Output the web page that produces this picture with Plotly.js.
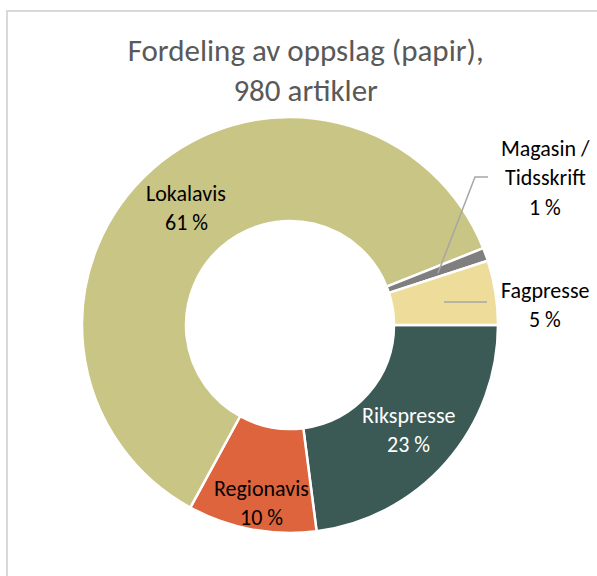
<!DOCTYPE html>
<html>
<head>
<meta charset="utf-8">
<script src="https://cdn.plot.ly/plotly-3.0.1.min.js"></script>
<style>
  html, body { margin: 0; padding: 0; background: #fff; overflow: hidden; }
  #frame { position: absolute; left: 6px; top: 10px; width: 620px; height: 600px; border: 2px solid #d9d9d9; box-sizing: border-box; }
  #chart { position: absolute; left: 0; top: 0; width: 597px; height: 576px; }
</style>
</head>
<body>
<div id="frame"></div>
<div id="chart"></div>
<script>
// Data
const categories = ["Rikspresse", "Regionavis", "Lokalavis", "Magasin / Tidsskrift", "Fagpresse"];
const labelLines = [["Rikspresse"], ["Regionavis"], ["Lokalavis"], ["Magasin /", "Tidsskrift"], ["Fagpresse"]];
const articleCounts = [225, 98, 598, 10, 49];
const percentLabels = ["23 %", "10 %", "61 %", "1 %", "5 %"];
const colors = ["#3B5A56", "#DD643C", "#C9C584", "#7F7F7F", "#EEDD9A"];
const labelFontColors = ["#ffffff", "#000000", "#000000", "#000000", "#000000"];
const chartTitle = "Fordeling av oppslag (papir),<br>980 artikler";

const W = 597, H = 576;
const px = x => x / W;
const py = y => 1 - y / H;
const FONT = "Carlito, Lato, 'Open Sans', sans-serif";

// label anchor positions (pixel centre of first line) and line spacing
const labelPos = [[408, 415], [261, 488], [186, 193], [545, 148], [545, 290]];
const lineGap = 29.5;

const annotations = [];
categories.forEach((c, i) => {
  const lines = labelLines[i].concat([percentLabels[i]]);
  lines.forEach((t, k) => {
    annotations.push({
      text: t, xref: "paper", yref: "paper",
      x: px(labelPos[i][0]), y: py(labelPos[i][1] + k * lineGap),
      xanchor: "center", yanchor: "middle", showarrow: false,
      font: {family: FONT, size: 22, color: labelFontColors[i]}
    });
  });
});

const leader = {color: "#A6A6A6", width: 1.5};
const shapes = [
  {type: "path", xref: "paper", yref: "paper",
   path: `M ${px(438)} ${py(273)} L ${px(475)} ${py(177)} L ${px(488)} ${py(177)}`, line: leader},
  {type: "line", xref: "paper", yref: "paper",
   x0: px(444), y0: py(302), x1: px(487), y1: py(302), line: leader}
];

const trace = {
  type: "pie",
  labels: categories,
  values: articleCounts,
  hole: 0.5,
  sort: false,
  direction: "clockwise",
  rotation: 90,
  textinfo: "none",
  hoverinfo: "label+percent",
  marker: {colors: colors, line: {color: "#ffffff", width: 2.5}},
  domain: {x: [px(82), px(498)], y: [py(533), py(117)]},
  showlegend: false
};

const layout = {
  width: W, height: H,
  margin: {l: 0, r: 0, t: 0, b: 0},
  paper_bgcolor: "rgba(0,0,0,0)",
  plot_bgcolor: "rgba(0,0,0,0)",
  title: {text: chartTitle, x: 0.512, xanchor: "center", y: 1 - 61 / H, yanchor: "top",
          font: {family: FONT, size: 31, color: "#595959"}},
  annotations: annotations,
  shapes: shapes,
  showlegend: false
};

Plotly.newPlot("chart", [trace], layout, {displayModeBar: false, staticPlot: true});
</script>
</body>
</html>
